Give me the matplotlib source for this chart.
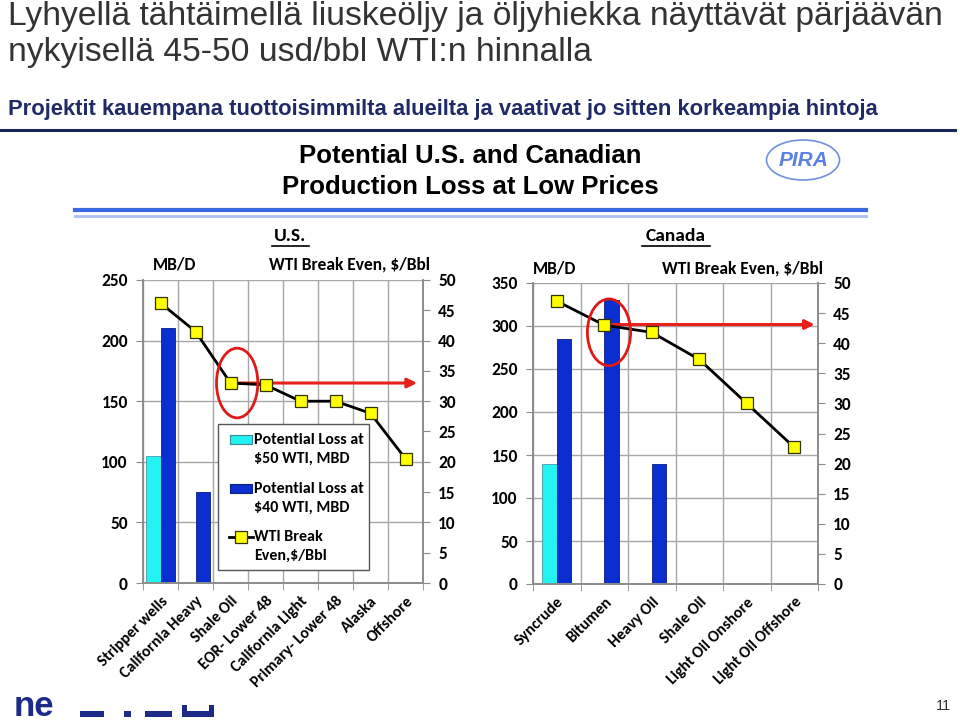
import numpy as np
import matplotlib
matplotlib.use("Agg")
import matplotlib.pyplot as plt
from matplotlib import font_manager
from matplotlib.patches import Ellipse, Rectangle
from matplotlib.lines import Line2D

# ---------------- data ----------------
us_categories = ["Stripper wells", "California Heavy", "Shale Oil", "EOR- Lower 48",
                 "California Light", "Primary- Lower 48", "Alaska", "Offshore"]
us_loss50 = [105, np.nan, np.nan, np.nan, np.nan, np.nan, np.nan, np.nan]
us_loss40 = [210, 75, np.nan, np.nan, np.nan, np.nan, np.nan, np.nan]
us_breakeven = [46.2, 41.5, 33.0, 32.7, 30.0, 30.0, 28.0, 20.5]
us_arrow_level = 33.0

ca_categories = ["Syncrude", "Bitumen", "Heavy Oil", "Shale Oil",
                 "Light Oil Onshore", "Light Oil Offshore"]
ca_loss50 = [140, np.nan, np.nan, np.nan, np.nan, np.nan]
ca_loss40 = [285, 330, 140, np.nan, np.nan, np.nan]
ca_breakeven = [47.0, 43.0, 41.8, 37.3, 30.0, 22.7]
ca_arrow_level = 43.1

left_ticks_us = [0, 50, 100, 150, 200, 250]
left_ticks_ca = [0, 50, 100, 150, 200, 250, 300, 350]
right_ticks = [0, 5, 10, 15, 20, 25, 30, 35, 40, 45, 50]

legend_labels = [("Potential Loss at", "\\$50 WTI, MBD"),
                 ("Potential Loss at", "\\$40 WTI, MBD"),
                 ("WTI Break", "Even,\\$/Bbl")]

# ---------------- fonts ----------------
names = {f.name for f in font_manager.fontManager.ttflist}
NARROW = 'Liberation Sans Narrow' if 'Liberation Sans Narrow' in names else 'Liberation Sans'
CAL = 'Carlito' if 'Carlito' in names else 'Lato'
ARIAL = 'Liberation Sans'

W, H = 960, 723
fig = plt.figure(figsize=(W / 100, H / 100), dpi=100)
fig.patch.set_facecolor('white')


def fx(x):
    return x / W


def fy(y):
    return 1 - y / H


def ftext(x, y, s, **kw):
    return fig.text(fx(x), fy(y), s, **kw)


def fline(x0, x1, y, **kw):
    fig.add_artist(Line2D([fx(x0), fx(x1)], [fy(y), fy(y)], transform=fig.transFigure, **kw))


def frect(x0, y0, x1, y1, **kw):
    r = Rectangle((fx(x0), fy(y1)), (x1 - x0) / W, (y1 - y0) / H,
                  transform=fig.transFigure, **kw)
    fig.add_artist(r)
    return r


# ---------------- slide header ----------------
ftext(8, 16, "Lyhyellä tähtäimellä liuskeöljy ja öljyhiekka näyttävät pärjäävän",
      family=NARROW, fontsize=24.2, color='#333333', va='center', ha='left')
ftext(8, 53, "nykyisellä 45-50 usd/bbl WTI:n hinnalla",
      family=NARROW, fontsize=24.2, color='#333333', va='center', ha='left')
ftext(8, 110, "Projektit kauempana tuottoisimmilta alueilta ja vaativat jo sitten korkeampia hintoja",
      family=NARROW, fontsize=15.8, color='#1F2A66', fontweight='bold', va='center', ha='left')
fline(0, 955, 130, color='#1A2756', lw=2.2)

# chart image title
ftext(470, 156, "Potential U.S. and Canadian", family=ARIAL, fontweight='bold',
      fontsize=18.5, ha='center', va='center', color='black')
ftext(470, 187, "Production Loss at Low Prices", family=ARIAL, fontweight='bold',
      fontsize=18.5, ha='center', va='center', color='black')

# PIRA logo
fig.add_artist(Ellipse((fx(803), fy(160)), 73 / W, 40 / H, transform=fig.transFigure,
                       facecolor='none', edgecolor='#7090E0', lw=1.2))
ftext(804, 161, "PIRA", family=ARIAL, fontweight='bold', style='italic',
      fontsize=15, color='#5B80E6', ha='center', va='center')

fline(75, 866, 210, color='#3C6AE0', lw=3)
fline(75, 866, 216, color='#A9C0F0', lw=2)

# ---------------- panels ----------------
CYAN = '#22F2F2'
BLUE = '#0A2ED0'
GRID = '#A8A8A8'
SPINE = '#8C8C8C'


def panel(rect, cats, l50, l40, be, lticks, lmax, bw, off, arrow_from, arrow_to, arrow_y,
          ell, title, title_x, mbd_x, wti_x, head_y, title_w):
    ax = fig.add_axes(rect)
    n = len(cats)
    x = np.arange(n)
    ax.bar(x - off, l50, width=bw, color=CYAN, edgecolor='#4A9AA8', lw=0.6, zorder=2)
    ax.bar(x + off, l40, width=bw, color=BLUE, edgecolor='#0A1F80', lw=0.6, zorder=2)
    ax.set_xlim(-0.5, n - 0.5)
    ax.set_ylim(0, lmax)
    ax.set_yticks(lticks)
    ax.set_yticklabels([str(t) for t in lticks], family=CAL, fontweight='bold', fontsize=12.5)
    ax.set_xticks(x)
    ax.set_xticklabels(cats, rotation=45, ha='right', va='top', rotation_mode='anchor',
                       family=CAL, fontweight='bold', fontsize=11.5)
    ax.set_xticks(np.arange(n + 1) - 0.5, minor=True)
    ax.tick_params(axis='x', which='major', length=0, pad=8)
    ax.tick_params(axis='x', which='minor', length=5, color=SPINE, direction='out')
    ax.tick_params(axis='y', length=5, color=SPINE, direction='out', pad=6)
    ax.grid(axis='y', which='major', color=GRID, lw=1)
    ax.grid(axis='x', which='minor', color=GRID, lw=1)
    ax.set_axisbelow(True)
    ax.spines['top'].set_visible(False)
    for s in ('left', 'bottom', 'right'):
        ax.spines[s].set_color(SPINE)
        ax.spines[s].set_linewidth(1.2)

    ax2 = ax.twinx()
    ax2.set_ylim(0, 50)
    ax2.set_yticks(right_ticks)
    ax2.set_yticklabels([str(t) for t in right_ticks], family=CAL, fontweight='bold', fontsize=12.5)
    ax2.tick_params(axis='y', length=5, color=SPINE, direction='out', pad=6)
    ax2.spines['top'].set_visible(False)
    for s in ('left', 'bottom', 'right'):
        ax2.spines[s].set_color(SPINE)
        ax2.spines[s].set_linewidth(1.2)
    ax2.annotate('', xy=(arrow_to, arrow_y), xytext=(arrow_from, arrow_y),
                 arrowprops=dict(arrowstyle='-|>', color='#E8201A', lw=2.2,
                                 mutation_scale=14, shrinkA=0, shrinkB=0), zorder=2)
    ln, = ax2.plot(x, be, color='black', lw=2, marker='s', markersize=8,
                   markerfacecolor='#FFFF00', markeredgecolor='#333300', markeredgewidth=0.9,
                   zorder=3)
    ax2.add_patch(Ellipse(ell[:2], ell[2], ell[3], facecolor='none',
                          edgecolor='#E01818', lw=2, zorder=4))

    # headings
    ftext(title_x, 236, title, family=CAL, fontweight='bold', fontsize=14,
          ha='center', va='center')
    fline(title_x - title_w / 2, title_x + title_w / 2, 246, color='black', lw=1.2)
    ftext(mbd_x, head_y, "MB/D", family=CAL, fontweight='bold', fontsize=12.5,
          ha='left', va='center')
    ftext(wti_x, head_y, "WTI Break Even, \\$/Bbl", family=CAL, fontweight='bold',
          fontsize=12.5, ha='right', va='center')
    return ax, ax2, ln


# U.S. panel: x 143..423, y 280..583
axu, axu2, lnu = panel([fx(143), fy(583), 280 / W, 303 / H], us_categories,
                       us_loss50, us_loss40, us_breakeven, left_ticks_us, 250,
                       0.42, 0.21, 2.0, 7.33, us_arrow_level,
                       (2.19, 33.0, 1.18, 11.5), "U.S.", 290, 153, 430, 265, 37)

# Canada panel: x 533..818, y 283..584
axc, axc2, lnc = panel([fx(533), fy(584), 285 / W, 301 / H], ca_categories,
                       ca_loss50, ca_loss40, ca_breakeven, left_ticks_ca, 350,
                       0.31, 0.15, 1.0, 5.43, ca_arrow_level,
                       (1.1, 41.8, 0.91, 11.1), "Canada", 676, 533, 823, 268, 68)

# legend box in U.S. panel (drawn as a framed key, handles aligned to first text line)
frect(218, 424, 369, 570, facecolor='white', edgecolor='#555555', lw=1.0, zorder=20)
rows_y = [440, 489, 537]
frect(230, rows_y[0] - 5, 252, rows_y[0] + 4, facecolor=CYAN, edgecolor='#3A8A98', lw=0.8, zorder=21)
frect(230, rows_y[1] - 5, 252, rows_y[1] + 4, facecolor=BLUE, edgecolor='#0A1F80', lw=0.8, zorder=21)
fig.add_artist(Line2D([fx(229), fx(253)], [fy(rows_y[2]), fy(rows_y[2])],
                      transform=fig.transFigure, color='black', lw=2, zorder=21))
fig.add_artist(Line2D([fx(241)], [fy(rows_y[2])], transform=fig.transFigure, marker='s',
                      markersize=8, markerfacecolor='#FFFF00', markeredgecolor='#333300',
                      markeredgewidth=0.9, zorder=22))
for yy, (l1, l2) in zip(rows_y, legend_labels):
    ftext(254, yy, l1, family=CAL, fontweight='bold', fontsize=11.5, ha='left',
          va='center', zorder=22)
    ftext(254, yy + 18.5, l2, family=CAL, fontweight='bold', fontsize=11.5, ha='left',
          va='center', zorder=22)

# ---------------- footer ----------------
ftext(14, 706, "ne", family=ARIAL, fontweight='bold', fontsize=25, color='#1C2A88',
      ha='left', va='center')
for (x0, x1, y0, y1) in [(80, 104, 711, 717), (124, 131, 711, 717), (145, 172, 711, 717),
                         (182, 214, 711, 717), (182, 187, 705, 711), (209, 214, 705, 711)]:
    frect(x0, y0, x1, y1, facecolor='#1C2A88', edgecolor='none')
ftext(943, 706, "11", family=ARIAL, fontsize=10.5, color='#333333', ha='center', va='center')

fig.savefig('out.png', dpi=100, facecolor='white')
